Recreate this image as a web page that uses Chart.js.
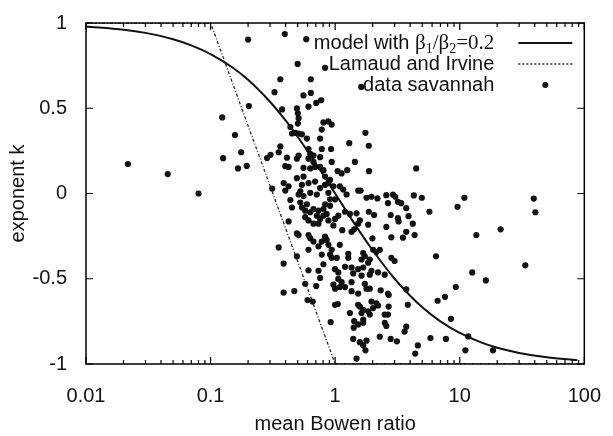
<!DOCTYPE html>
<html>
<head>
<meta charset="utf-8">
<script src="https://cdn.jsdelivr.net/npm/chart.js@4.4.1/dist/chart.umd.min.js"></script>
<style>
    body { margin: 0; background: #fff; }
    #wrap { width: 613px; height: 436px; }
</style>
</head>
<body>
<div id="wrap"><canvas id="myChart"></canvas></div>
<script>
// model curve, beta1/beta2 = 0.2
const modelB = [0.01, 0.02, 0.03, 0.05, 0.07, 0.1, 0.15, 0.2, 0.3, 0.4, 0.5, 0.7, 1, 1.5, 2, 3, 4, 5, 7, 10, 15, 20, 30, 50, 88];
const modelK = [0.98, 0.961, 0.942, 0.905, 0.869, 0.818, 0.739, 0.667, 0.538, 0.429, 0.333, 0.176, 0, -0.2, -0.333, -0.5, -0.6, -0.667, -0.75, -0.818, -0.875, -0.905, -0.935, -0.961, -0.978];

// Lamaud and Irvine
const lamaudB = [0.01, 0.1, 1, 100];
const lamaudK = [1, 1, -1, -1];

// data savannah: mean Bowen ratio and exponent k
const savannahB = [
    0.0217, 0.0453, 0.080, 0.124, 0.126, 0.157, 0.166, 0.176, 0.195, 0.203,
    0.20, 0.394, 0.586, 0.50, 0.83, 0.363, 0.638, 0.326, 0.557, 0.638,
    0.705, 0.772, 0.611, 0.375, 1.62,
    0.493, 0.502, 0.509, 0.502, 0.437, 0.45, 0.479, 0.509, 0.541, 0.593,
    0.757, 0.805, 0.883, 0.938, 0.781, 0.363, 0.352, 0.303, 0.284, 0.41,
    0.509, 0.493, 0.611, 0.631, 0.67, 0.611, 0.67, 0.757, 0.781, 0.927,
    0.69, 0.631, 0.757, 0.805, 0.938, 0.398, 0.423, 0.557, 1.047, 1.127,
    0.312, 0.386, 0.423, 0.493, 0.541, 0.525, 0.611, 0.69, 0.757, 0.83,
    0.883, 0.968, 1.09, 0.83, 0.91, 0.557,
    1.75, 1.298, 1.862, 1.44, 1.25, 1.87, 4.47, 1.16, 1.53, 1.60,
    0.398, 0.509, 0.557, 0.631, 0.713, 0.883, 0.91, 0.998, 0.437, 0.525,
    0.593, 0.541, 0.575, 0.631, 0.67, 0.735, 0.805, 0.83, 0.91, 0.855,
    0.805, 0.575, 0.611, 0.67, 0.735, 0.757, 0.713, 0.883, 0.998, 1.06,
    0.968, 0.45, 0.423, 0.493, 0.509, 0.611, 0.631, 0.67, 0.735, 0.781,
    0.83, 0.855, 0.883, 0.938, 0.91, 0.781, 0.611, 0.352, 0.493, 0.386,
    0.611, 0.735, 0.805, 0.938, 1.03, 0.998, 1.06, 1.09,
    1.235, 1.784, 1.956, 2.185, 2.575, 2.91, 3.04, 2.655, 3.19, 3.39,
    3.72, 4.28, 4.96, 5.71, 1.2, 1.314, 1.484, 1.862, 2.055, 1.578,
    1.53, 1.84, 2.79, 3.19, 3.23, 3.88, 4.2, 1.14, 1.355, 1.422,
    2.575, 1.992, 2.825, 3.5, 3.72, 4.34, 1.274, 1.274, 1.679, 1.73,
    1.628, 1.897, 1.84, 2.017, 2.145, 2.28, 2.825, 3.0, 1.2, 1.355,
    1.53, 1.679, 1.956, 2.21, 2.5, 6.45, 1.397, 1.628, 1.897,
    0.757, 0.575, 0.705, 0.968, 1.06, 1.09, 0.998, 0.386, 0.47, 0.6,
    0.66, 0.998, 1.05, 0.92,
    1.2, 1.355, 1.355, 1.53, 1.73, 1.784, 1.897, 2.32, 2.655, 2.69,
    3.72, 1.127, 1.53, 1.578, 1.956, 2.145, 2.21, 2.017, 1.679, 1.628,
    1.897, 1.84, 2.5, 2.655, 2.69, 3.83, 1.314, 1.422, 1.53, 1.679,
    1.679, 2.5, 2.575, 3.72, 3.61, 1.41, 1.397, 1.578, 1.679, 1.784,
    1.75, 2.28, 2.79, 3.13, 4.61, 4.39, 1.484, 5.82, 6.65, 7.61,
    7.75,
    39.3, 40.5, 10.9, 9.6, 13.6, 21.3, 33.6, 12.6, 16.2, 9.3,
    8.5, 11.7, 11.1, 18.5
];
const savannahK = [
    0.173, 0.114, 0.0, 0.446, 0.207, 0.343, 0.147, 0.242, 0.162, 0.513,
    0.903, 0.935, 0.905, 0.76, 0.737, 0.67, 0.67, 0.594, 0.575, 0.59,
    0.531, 0.547, 0.509, 0.493, 0.625,
    0.499, 0.47, 0.442, 0.41, 0.39, 0.352, 0.356, 0.352, 0.347, 0.322,
    0.322, 0.417, 0.423, 0.404, 0.375, 0.276, 0.242, 0.227, 0.208, 0.21,
    0.223, 0.204, 0.261, 0.232, 0.223, 0.204, 0.185, 0.213, 0.261, 0.261,
    0.156, 0.147, 0.156, 0.137, 0.185, 0.16, 0.156, 0.15, 0.131, 0.118,
    0.029, 0.061, 0.042, 0.09, 0.051, 0.013, 0.061, 0.07, 0.032, 0.051,
    0.061, 0.042, 0.042, 0.099, 0.08, 0.099,
    0.356, 0.295, 0.28, 0.185, 0.137, 0.131, 0.147, 0.023, 0.017, 0.017,
    0.017, -0.006, -0.015, 0.004, -0.006, 0.004, -0.034, -0.034, -0.038, -0.053,
    -0.063, -0.082, -0.101, -0.11, -0.091, -0.101, -0.091, -0.063, -0.072, -0.12,
    -0.13, -0.139, -0.158, -0.177, -0.177, -0.149, -0.13, -0.158, -0.149, -0.13,
    -0.187, -0.082, -0.164, -0.234, -0.244, -0.244, -0.263, -0.282, -0.31, -0.282,
    -0.253, -0.272, -0.301, -0.33, -0.358, -0.358, -0.33, -0.316, -0.368, -0.411,
    -0.45, -0.453, -0.415, -0.377, -0.377, -0.444, -0.463, -0.301,
    -0.006, -0.025, -0.019, -0.029, -0.010, -0.006, -0.019, -0.057, -0.049, -0.057,
    -0.086, -0.011, -0.025, -0.107, -0.107, -0.12, -0.116, -0.107, -0.126, -0.158,
    -0.177, -0.183, -0.126, -0.145, -0.164, -0.133, -0.177, -0.215, -0.225, -0.21,
    -0.196, -0.263, -0.257, -0.259, -0.225, -0.244, -0.354, -0.377, -0.349, -0.368,
    -0.387, -0.387, -0.406, -0.33, -0.343, -0.331, -0.377, -0.396, -0.43, -0.434,
    -0.444, -0.434, -0.453, -0.463, -0.476, -0.368, -0.469, -0.482, -0.476,
    -0.495, -0.53, -0.543, -0.535, -0.501, -0.549, -0.558, -0.581, -0.572, -0.625,
    -0.634, -0.653, -0.648, -0.754,
    -0.549, -0.52, -0.573, -0.587, -0.53, -0.558, -0.558, -0.568, -0.587, -0.596,
    -0.562, -0.52, -0.653, -0.663, -0.634, -0.644, -0.657, -0.672, -0.682, -0.701,
    -0.71, -0.691, -0.71, -0.71, -0.663, -0.653, -0.701, -0.749, -0.768, -0.739,
    -0.758, -0.758, -0.777, -0.781, -0.81, -0.787, -0.853, -0.872, -0.891, -0.863,
    -0.92, -0.84, -0.853, -0.867, -0.891, -0.939, -0.968, -0.848, -0.629, -0.606,
    -0.853,
    -0.03, -0.11, -0.025, -0.078, -0.244, -0.21, -0.421, -0.463, -0.51, -0.549,
    -0.735, -0.838, -0.92, -0.92
];

// axis ticks
const xMajor = [0.01, 0.1, 1, 10, 100];
const xTickLabels = ['0.01', '0.1', '1', '10', '100'];
const yTicks = [-1, -0.5, 0, 0.5, 1];
const yTickLabels = ['-1', '-0.5', '0', '0.5', '1'];

const SANS = "'Liberation Sans', Arial, sans-serif";
const SERIF = "'Liberation Serif', 'Times New Roman', serif";

function toPoints(xs, ys) {
    return xs.map((x, i) => ({ x: x, y: ys[i] }));
}

// build x ticks: decades plus 2..9 minor marks
const xTickValues = [];
for (let i = 0; i < xMajor.length - 1; i++) {
    for (let m = 1; m <= 9; m++) {
        xTickValues.push(+(m * xMajor[i]).toPrecision(3));
    }
}
xTickValues.push(xMajor[xMajor.length - 1]);

// inward tick marks on all four sides + frame (gnuplot look)
const frameTicks = {
    id: 'frameTicks',
    afterDatasetsDraw(chart) {
        const { ctx, chartArea: a, scales: { x, y } } = chart;
        ctx.save();
        ctx.strokeStyle = '#000';
        ctx.lineWidth = 1.2;
        ctx.beginPath();
        for (const v of xTickValues) {
            const px = x.getPixelForValue(v);
            const len = xMajor.includes(v) ? 7 : 4;
            ctx.moveTo(px, a.bottom);
            ctx.lineTo(px, a.bottom - len);
            ctx.moveTo(px, a.top);
            ctx.lineTo(px, a.top + len);
        }
        for (const v of yTicks) {
            const py = y.getPixelForValue(v);
            ctx.moveTo(a.left, py);
            ctx.lineTo(a.left + 7, py);
            ctx.moveTo(a.right, py);
            ctx.lineTo(a.right - 7, py);
        }
        ctx.stroke();
        ctx.lineWidth = 1.5;
        ctx.strokeRect(a.left, a.top, a.right - a.left, a.bottom - a.top);
        ctx.restore();
    }
};

// key in the upper right, text right-aligned with sample on the right
const keyBox = {
    id: 'keyBox',
    afterDraw(chart) {
        const { ctx, chartArea: a } = chart;
        const textRight = a.right - 90;
        const s0 = a.right - 66;
        const s1 = a.right - 12;
        const rows = [a.top + 20, a.top + 41, a.top + 62];
        ctx.save();
        ctx.fillStyle = '#111';
        ctx.textBaseline = 'middle';

        // row 1: model with β1/β2=0.2
        const pieces = [
            { t: 'model with ', f: '20px ' + SANS, dy: 0 },
            { t: 'β', f: '21px ' + SERIF, dy: 0 },
            { t: '1', f: '14px ' + SERIF, dy: 6 },
            { t: '/', f: '21px ' + SERIF, dy: 0 },
            { t: 'β', f: '21px ' + SERIF, dy: 0 },
            { t: '2', f: '14px ' + SERIF, dy: 6 },
            { t: '=0.2', f: '21px ' + SERIF, dy: 0 }
        ];
        let total = 0;
        for (const p of pieces) {
            ctx.font = p.f;
            p.w = ctx.measureText(p.t).width;
            total += p.w;
        }
        let cx = textRight - total;
        ctx.textAlign = 'left';
        for (const p of pieces) {
            ctx.font = p.f;
            ctx.fillText(p.t, cx, rows[0] + p.dy);
            cx += p.w;
        }

        ctx.font = '20px ' + SANS;
        ctx.textAlign = 'right';
        ctx.fillText('Lamaud and Irvine', textRight, rows[1]);
        ctx.fillText('data savannah', textRight, rows[2]);

        ctx.strokeStyle = '#111';
        ctx.lineWidth = 2;
        ctx.beginPath();
        ctx.moveTo(s0, rows[0]);
        ctx.lineTo(s1, rows[0]);
        ctx.stroke();

        ctx.lineWidth = 1.3;
        ctx.setLineDash([2, 2]);
        ctx.beginPath();
        ctx.moveTo(s0, rows[1]);
        ctx.lineTo(s1, rows[1]);
        ctx.stroke();
        ctx.setLineDash([]);

        ctx.beginPath();
        ctx.arc((s0 + s1) / 2, rows[2], 3, 0, Math.PI * 2);
        ctx.fill();
        ctx.restore();
    }
};

const ctx = document.getElementById('myChart').getContext('2d');
const myChart = new Chart(ctx, { // eslint-disable-line
    type: 'scatter',
    data: {
        datasets: [
            {
                label: 'model with β1/β2=0.2',
                type: 'line',
                data: toPoints(modelB, modelK),
                borderColor: '#111',
                borderWidth: 2,
                pointRadius: 0,
                cubicInterpolationMode: 'monotone',
                fill: false
            },
            {
                label: 'Lamaud and Irvine',
                type: 'line',
                data: toPoints(lamaudB, lamaudK),
                borderColor: '#222',
                borderWidth: 1.3,
                borderDash: [3, 2, 1, 2],
                pointRadius: 0,
                tension: 0,
                fill: false
            },
            {
                label: 'data savannah',
                data: toPoints(savannahB, savannahK),
                backgroundColor: '#111',
                borderWidth: 0,
                pointRadius: 3.1
            }
        ]
    },
    options: {
        responsive: true,
        maintainAspectRatio: false,
        animation: false,
        layout: { padding: { top: 14, right: 25.5, left: 0, bottom: 0 } },
        plugins: {
            legend: { display: false },
            tooltip: { enabled: false }
        },
        scales: {
            x: {
                type: 'logarithmic',
                min: 0.01,
                max: 100,
                grid: { display: false },
                border: { display: false },
                afterBuildTicks: (scale) => {
                    scale.ticks = xTickValues.map(v => ({ value: v }));
                },
                afterFit: (scale) => { scale.height = 72; },
                ticks: {
                    autoSkip: false,
                    maxRotation: 0,
                    padding: 12,
                    color: '#111',
                    font: { family: SANS, size: 20 },
                    callback: (v) => {
                        const i = xMajor.findIndex(m => Math.abs(m - v) < m * 1e-6);
                        return i >= 0 ? xTickLabels[i] : '';
                    }
                },
                title: {
                    display: true,
                    text: 'mean Bowen ratio',
                    color: '#111',
                    font: { family: SANS, size: 20 },
                    padding: { top: 0, bottom: 0 }
                }
            },
            y: {
                min: -1,
                max: 1,
                grid: { display: false },
                border: { display: false },
                afterBuildTicks: (scale) => {
                    scale.ticks = yTicks.map(v => ({ value: v }));
                },
                afterFit: (scale) => { scale.width = 86; },
                ticks: {
                    padding: 11,
                    color: '#111',
                    font: { family: SANS, size: 20 },
                    callback: (v) => {
                        const i = yTicks.indexOf(v);
                        return i >= 0 ? yTickLabels[i] : '';
                    }
                },
                title: {
                    display: true,
                    text: 'exponent k',
                    color: '#111',
                    font: { family: SANS, size: 20 },
                    padding: { top: 6, bottom: 0 }
                }
            }
        }
    },
    plugins: [frameTicks, keyBox]
});
</script>
</body>
</html>
